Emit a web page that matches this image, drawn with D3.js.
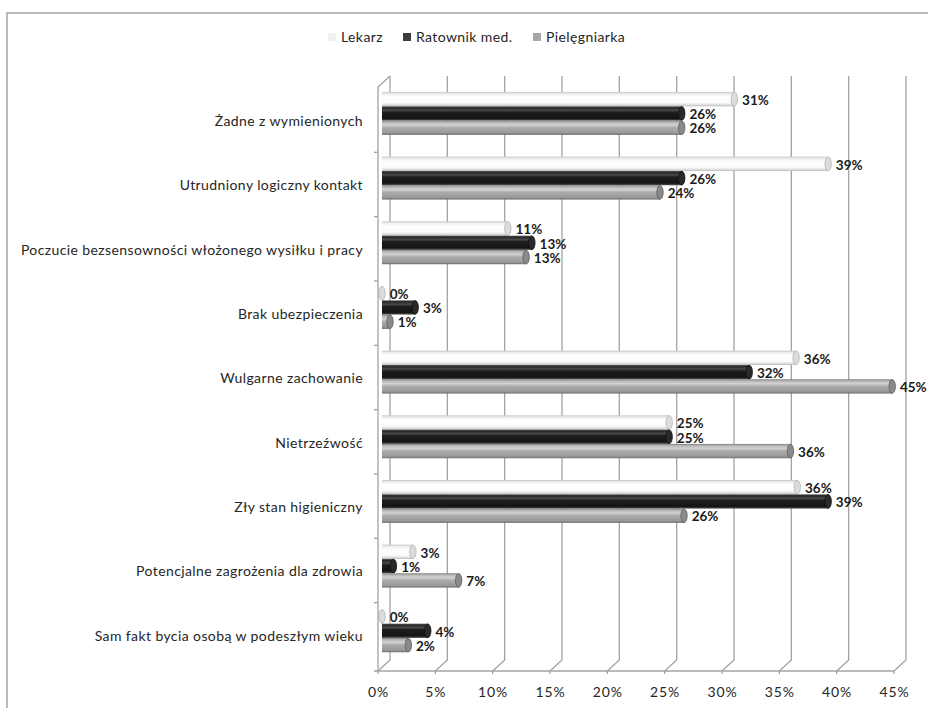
<!DOCTYPE html>
<html>
<head>
<meta charset="utf-8">
<script src="https://cdn.jsdelivr.net/npm/d3@7"></script>
<style>
  html, body { margin: 0; padding: 0; background: #fff; }
  svg { display: block; font-family: Lato, "Open Sans", sans-serif; }
</style>
</head>
<body>
<div id="chart"></div>
<script>

const categories = [
  'Żadne z wymienionych',
  'Utrudniony logiczny kontakt',
  'Poczucie bezsensowności włożonego wysiłku i pracy',
  'Brak ubezpieczenia',
  'Wulgarne zachowanie',
  'Nietrzeźwość',
  'Zły stan higieniczny',
  'Potencjalne zagrożenia dla zdrowia',
  'Sam fakt bycia osobą w podeszłym wieku'
];

const seriesNames = ['Lekarz', 'Ratownik med.', 'Pielęgniarka'];

// values in % (labels show them rounded)
const lekarz = [30.8, 39.0, 11.0, 0.0, 36.2, 25.1, 36.3, 2.7, 0.0];
const ratownik = [26.2, 26.2, 13.1, 2.9, 32.1, 25.1, 39.0, 1.0, 4.0];
const pielegniarka = [26.2, 24.3, 12.6, 0.7, 44.6, 35.7, 26.4, 6.7, 2.3];

const xTicks = [0, 5, 10, 15, 20, 25, 30, 35, 40, 45];


/**
 * @private
 * @class
 */
class Bar3DChart {


  /**
   * @public
   * @constructor
   * @param {String} selector
   */
  constructor(selector) {

    this._width = 928;
    this._height = 708;

    this._svg = d3.select(selector)
      .append('svg')
      .attr('width', this._width)
      .attr('height', this._height);

    this._defs = this._svg.append('defs');

    // 3d depth of the walls
    this._dx = 12;
    this._dy = -11;

    this._xFront = d3.scaleLinear([0, 45], [378, 894]);
    this._xBar = d3.scaleLinear([0, 45], [382, 896.8]);

    this._yLabel = d3.scaleBand(categories, [88, 667]);
    this._yBar = d3.scaleBand(categories, [86, 668]);

    this._top = 87;
    this._bottom = 671;

    this._styles = [
      {
        key: 'lek', legend: '#f0f0f0', cap: '#dcdcdc', capStroke: '#b4b4b4',
        stops: [[0, '#c4c4c4'], [0.12, '#ececec'], [0.35, '#ffffff'], [0.75, '#fbfbfb'], [0.9, '#dedede'], [1, '#b8b8b8']]
      },
      {
        key: 'rat', legend: '#3c3c3c', cap: '#2a2a2a', capStroke: '#111',
        stops: [[0, '#666666'], [0.1, '#262626'], [0.28, '#4a4a4a'], [0.42, '#1e1e1e'], [0.85, '#141414'], [1, '#555555']]
      },
      {
        key: 'pie', legend: '#a6a6a6', cap: '#8a8a8a', capStroke: '#5e5e5e',
        stops: [[0, '#7e7e7e'], [0.12, '#b6b6b6'], [0.3, '#d2d2d2'], [0.5, '#ababab'], [0.85, '#9a9a9a'], [1, '#6e6e6e']]
      }
    ];

    this._textStyle = sel => sel
      .style('font-size', '14px')
      .style('letter-spacing', '0.4px')
      .style('fill', '#262626');
  }


  /**
   * Render chart.
   * @public
   * @returns {Bar3DChart}
   */
  render() {

    this._renderFrame();
    this._renderGradients();
    this._renderGrid();
    this._renderAxes();
    this._renderBars();
    this._renderLegend();

    return this;
  }


  /**
   * @private
   */
  _renderFrame() {

    this._svg.append('rect')
      .attr('x', 7)
      .attr('y', 13)
      .attr('width', 1000)
      .attr('height', 1000)
      .style('fill', 'none')
      .style('stroke', '#a9a9a9')
      .style('stroke-width', 1.6);
  }


  /**
   * @private
   */
  _renderGradients() {

    this._styles.forEach(s => {

      this._defs.append('linearGradient')
        .attr('id', 'grad-' + s.key)
        .attr('x1', 0).attr('y1', 0)
        .attr('x2', 0).attr('y2', 1)
        .selectAll('stop')
        .data(s.stops)
        .join('stop')
        .attr('offset', d => d[0])
        .attr('stop-color', d => d[1]);
    });
  }


  /**
   * Back wall gridlines, bending down to the front at the floor.
   * @private
   */
  _renderGrid() {

    const backTop = this._top + this._dy;
    const backBottom = this._bottom + this._dy;

    this._svg.append('g')
      .selectAll('path')
      .data(xTicks)
      .join('path')
      .attr('d', t => {
        const xf = this._xFront(t);
        return `M${xf + this._dx},${backTop}V${backBottom}L${xf},${this._bottom}`;
      })
      .style('fill', 'none')
      .style('stroke', '#a3a3a3')
      .style('stroke-width', 1.3);
  }


  /**
   * @private
   */
  _renderAxes() {

    const g = this._svg.append('g')
      .style('fill', 'none')
      .style('stroke', '#a3a3a3')
      .style('stroke-width', 1.3);

    const x0 = this._xFront(0);
    const x45 = this._xFront(45);

    // left (category) axis with its top corner
    g.append('path')
      .attr('d', `M${x0},${this._bottom}V${this._top}L${x0 + this._dx},${this._top + this._dy}`);

    // floor front edge
    g.append('path')
      .attr('d', `M${x0 - 4},${this._bottom}H${x45}`);

    // category ticks
    const bounds = categories.map(c => this._yLabel(c));

    g.selectAll('.ytick')
      .data(bounds.slice(1))
      .join('path')
      .attr('d', y => `M${x0 - 4},${y}H${x0}`);

    // value ticks
    g.selectAll('.xtick')
      .data(xTicks)
      .join('path')
      .attr('d', t => `M${this._xFront(t)},${this._bottom}V${this._bottom + 3}`);

    this._svg.append('g')
      .selectAll('text')
      .data(xTicks)
      .join('text')
      .attr('x', t => this._xFront(t) + 0.5)
      .attr('y', 692)
      .attr('dy', '0.35em')
      .attr('text-anchor', 'middle')
      .call(this._textStyle)
      .style('letter-spacing', '0.9px')
      .text(t => t + '%');

    this._svg.append('g')
      .selectAll('text')
      .data(categories)
      .join('text')
      .attr('x', 363)
      .attr('y', c => this._yLabel(c) + this._yLabel.bandwidth() / 2 + 1)
      .attr('dy', '0.35em')
      .attr('text-anchor', 'end')
      .call(this._textStyle)
      .text(c => c);
  }


  /**
   * Cylinder bars.
   * @private
   */
  _renderBars() {

    const series = [lekarz, ratownik, pielegniarka];
    const barH = 14.3;
    const rx = 3.2;
    const fmt = d3.format('.0f');

    series.forEach((values, si) => {

      const s = this._styles[si];
      const rows = values.map((v, i) => ({
        v: v,
        y: this._yBar(categories[i]) + 6 + si * barH
      }));

      const g = this._svg.append('g');

      g.selectAll('rect')
        .data(rows)
        .join('rect')
        .attr('x', this._xBar(0))
        .attr('y', d => d.y)
        .attr('width', d => this._xBar(d.v) - this._xBar(0))
        .attr('height', barH)
        .style('fill', `url(#grad-${s.key})`);

      g.selectAll('ellipse')
        .data(rows)
        .join('ellipse')
        .attr('cx', d => this._xBar(d.v))
        .attr('cy', d => d.y + barH / 2)
        .attr('rx', rx)
        .attr('ry', barH / 2 - 0.3)
        .style('fill', s.cap)
        .style('stroke', s.capStroke)
        .style('stroke-width', 0.8);

      g.selectAll('text')
        .data(rows)
        .join('text')
        .attr('x', d => this._xBar(d.v) + rx + 4.5)
        .attr('y', d => d.y + barH / 2 + 1)
        .attr('dy', '0.35em')
        .style('font-size', '13.5px')
        .style('font-weight', 'bold')
        .style('fill', '#1a1a1a')
        .text(d => fmt(d.v) + '%');
    });
  }


  /**
   * @private
   */
  _renderLegend() {

    const items = [
      { x: 328, name: seriesNames[0] },
      { x: 403, name: seriesNames[1] },
      { x: 533, name: seriesNames[2] }
    ];

    const g = this._svg.append('g');

    items.forEach((item, i) => {

      g.append('rect')
        .attr('x', item.x)
        .attr('y', 33)
        .attr('width', 8)
        .attr('height', 8)
        .style('fill', this._styles[i].legend);

      g.append('text')
        .attr('x', item.x + 13)
        .attr('y', 37.5)
        .attr('dy', '0.35em')
        .call(this._textStyle)
        .text(item.name);
    });
  }
}


new Bar3DChart('#chart').render();

</script>
</body>
</html>
